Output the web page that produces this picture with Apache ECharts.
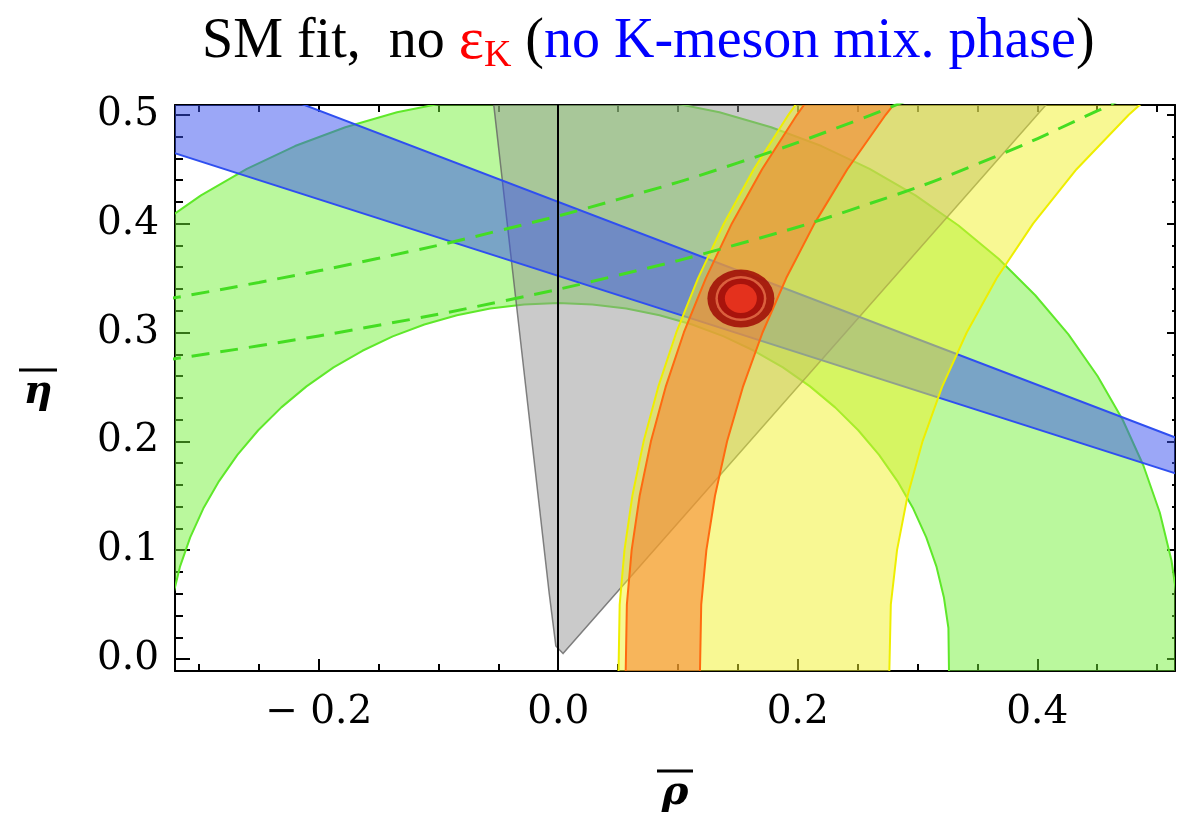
<!DOCTYPE html>
<html><head><meta charset="utf-8">
<script src="https://cdn.jsdelivr.net/npm/echarts@6/dist/echarts.min.js"></script>
<style>html,body{margin:0;padding:0;background:#fff}#c{width:1178px;height:819px}</style>
</head><body><div id="c"></div>
<script>
// ---- axis ranges and tick labels ----
const xRange = [-0.32, 0.515];
const yRange = [-0.011, 0.509];
const xTickValues = [-0.2, 0.0, 0.2, 0.4];
const xTickLabels = ['\u2212 0.2', '0.0', '0.2', '0.4'];
const yTickValues = [0.0, 0.1, 0.2, 0.3, 0.4, 0.5];
const yTickLabels = ['0.0', '0.1', '0.2', '0.3', '0.4', '0.5'];

// ---- constraint regions (rho, eta) ----
// |Vub/Vcb| annulus (green): outer arc then inner arc
const greenOuter = [[0.5196,-0.02],[0.52,0],[0.518,0.0453],[0.5121,0.0903],[0.5023,0.1346],[0.4886,0.1778],[0.4713,0.2198],[0.4503,0.26],[0.426,0.2983],[0.3983,0.3342],[0.3677,0.3677],[0.3342,0.3983],[0.2983,0.426],[0.26,0.4503],[0.2198,0.4713],[0.1778,0.4886],[0.1346,0.5023],[0.0903,0.5121],[0.0453,0.518],[0,0.52],[-0.0453,0.518],[-0.0903,0.5121],[-0.1346,0.5023],[-0.1778,0.4886],[-0.2198,0.4713],[-0.26,0.4503],[-0.2983,0.426],[-0.3342,0.3983],[-0.3677,0.3677]];
const greenInner = [[-0.322,0.0568],[-0.3159,0.0846],[-0.3073,0.1118],[-0.2964,0.1382],[-0.2832,0.1635],[-0.2679,0.1876],[-0.2505,0.2102],[-0.2312,0.2312],[-0.2102,0.2505],[-0.1876,0.2679],[-0.1635,0.2832],[-0.1382,0.2964],[-0.1118,0.3073],[-0.0846,0.3159],[-0.0568,0.322],[-0.0285,0.3258],[0,0.327],[0.0285,0.3258],[0.0568,0.322],[0.0846,0.3159],[0.1118,0.3073],[0.1382,0.2964],[0.1635,0.2832],[0.1876,0.2679],[0.2102,0.2505],[0.2312,0.2312],[0.2505,0.2102],[0.2679,0.1876],[0.2832,0.1635],[0.2964,0.1382],[0.3073,0.1118],[0.3159,0.0846],[0.322,0.0568],[0.3258,0.0285],[0.3264,-0.02]];
// gamma wedge (gray)
const grayWedge = [[-0.056,0.53],[-0.0075,0.06],[-0.002,0.012],[0.004,0.005],[0.424,0.53]];
// sin 2beta band (blue)
const blueBand = [[-0.4,0.588],[0.6,0.168],[0.6,0.1408],[-0.4,0.4928]];
// Delta m_d band (yellow): left edge bottom->top, right edge top->bottom
const yellowLeft = [[0.0502,-0.02],[0.0513,0.05],[0.0553,0.1],[0.0619,0.15],[0.0713,0.2],[0.0835,0.25],[0.0986,0.3],[0.1168,0.35],[0.1383,0.4],[0.1633,0.45],[0.1922,0.5],[0.2116,0.53]];
const yellowRight = [[0.5068,0.53],[0.4764,0.5],[0.4328,0.45],[0.3965,0.4],[0.3662,0.35],[0.3411,0.3],[0.3205,0.25],[0.3042,0.2],[0.2917,0.15],[0.2829,0.1],[0.2777,0.05],[0.2763,-0.02]];
// Delta m_s / Delta m_d band (orange)
const orangeLeft = [[0.0562,-0.02],[0.0573,0.05],[0.0613,0.1],[0.068,0.15],[0.0774,0.2],[0.0897,0.25],[0.1049,0.3],[0.1233,0.35],[0.1449,0.4],[0.1702,0.45],[0.1993,0.5],[0.2188,0.53]];
const orangeRight = [[0.295,0.53],[0.2734,0.5],[0.2414,0.45],[0.2139,0.4],[0.1904,0.35],[0.1706,0.3],[0.1542,0.25],[0.141,0.2],[0.1309,0.15],[0.1237,0.1],[0.1194,0.05],[0.1182,-0.02]];
// epsilon_K curves (dashed, not used in fit)
const epsKUpper = [[-0.33,0.3301],[-0.25,0.346],[-0.15,0.3682],[-0.05,0.3934],[0.05,0.4223],[0.15,0.4558],[0.25,0.4951],[0.3,0.5174]];
const epsKLower = [[-0.33,0.2744],[-0.25,0.2878],[-0.15,0.3066],[-0.05,0.328],[0.05,0.3526],[0.15,0.3811],[0.25,0.4147],[0.35,0.4548],[0.45,0.5035],[0.48,0.5202]];
// fit result
const fitCenter = [0.1525, 0.3312];
const rhoZero = 0;

function fmt(values, labels) {
  return function (v) {
    for (let i = 0; i < values.length; i++) if (Math.abs(v - values[i]) < 1e-7) return labels[i];
    return '';
  };
}

function polygonSeries(pts, fill, stroke, lw, z) {
  return {
    type: 'custom', coordinateSystem: 'cartesian2d', xAxisIndex: 0, yAxisIndex: 0,
    clip: true, silent: true, z: z, data: pts, encode: { x: 0, y: 1 },
    renderItem: function (params, api) {
      if (params.dataIndex !== 0) return null;
      const points = pts.map(function (p) { return api.coord(p); });
      return { type: 'polygon', shape: { points: points }, style: { fill: fill, stroke: stroke, lineWidth: lw, lineJoin: 'round' } };
    }
  };
}

const chart = echarts.init(document.getElementById('c'), null, { renderer: 'canvas' });
const tickStyle = { color: '#000', width: 2 };
const labelFont = { fontFamily: 'DejaVu Serif', fontSize: 39, color: '#000' };
const titleFont = 'Liberation Serif';

const option = {
  animation: false,
  backgroundColor: '#fff',
  title: {
    text: '{a|SM fit,  no }{e|\u03b5}{k|K}{a| (}{b|no K-meson mix. phase}{a|)}',
    left: 197, top: 4,
    textStyle: {
      fontWeight: 'normal',
      rich: {
        a: { fontFamily: titleFont, fontWeight: 'normal', fontSize: 56, color: '#000', lineHeight: 66 },
        e: { fontFamily: titleFont, fontWeight: 'normal', fontSize: 60, color: '#ff0000', lineHeight: 66 },
        k: { fontFamily: titleFont, fontWeight: 'normal', fontSize: 38, color: '#ff0000', lineHeight: 30, verticalAlign: 'bottom' },
        b: { fontFamily: titleFont, fontWeight: 'normal', fontSize: 56, color: '#0000ff', lineHeight: 66 }
      }
    }
  },
  grid: { left: 175, right: 1, top: 105, bottom: 141, show: false },
  xAxis: [
    {
      type: 'value', min: xRange[0], max: xRange[1], position: 'bottom',
      axisLine: { show: true, onZero: false, lineStyle: tickStyle },
      axisTick: { show: true, inside: true, length: 12, lineStyle: tickStyle },
      minorTick: { show: true, splitNumber: 4, length: 7, lineStyle: tickStyle },
      splitLine: { show: false },
      axisLabel: Object.assign({ formatter: fmt(xTickValues, xTickLabels), margin: 22 }, labelFont),
      name: '{bar| }\n{g|\u03c1}', nameLocation: 'middle', nameGap: 118,
      nameTextStyle: {
        align: 'center', verticalAlign: 'middle',
        rich: {
          bar: { width: 36, height: 3, backgroundColor: '#000', fontSize: 2, lineHeight: 10 },
          g: { fontFamily: 'DejaVu Serif', fontStyle: 'italic', fontWeight: 'bold', fontSize: 40, lineHeight: 36, color: '#000' }
        }
      }
    },
    {
      type: 'value', min: xRange[0], max: xRange[1], position: 'top',
      axisLine: { show: true, onZero: false, lineStyle: tickStyle },
      axisTick: { show: true, inside: true, length: 7, lineStyle: tickStyle },
      minorTick: { show: true, splitNumber: 4, length: 7, lineStyle: tickStyle },
      splitLine: { show: false }, axisLabel: { show: false }
    }
  ],
  yAxis: [
    {
      type: 'value', min: yRange[0], max: yRange[1], position: 'left',
      axisLine: { show: true, onZero: false, lineStyle: tickStyle },
      axisTick: { show: true, inside: true, length: 15, lineStyle: tickStyle },
      minorTick: { show: true, splitNumber: 5, length: 8, lineStyle: tickStyle },
      splitLine: { show: false },
      axisLabel: Object.assign({ formatter: fmt(yTickValues, yTickLabels), margin: 16 }, labelFont),
      name: '{bar| }\n{g|\u03b7}', nameLocation: 'middle', nameGap: 137, nameRotate: 0,
      nameTextStyle: {
        align: 'center', verticalAlign: 'middle',
        rich: {
          bar: { width: 38, height: 3, backgroundColor: '#000', fontSize: 2, lineHeight: 10 },
          g: { fontFamily: 'DejaVu Serif', fontStyle: 'italic', fontWeight: 'bold', fontSize: 40, lineHeight: 36, color: '#000' }
        }
      }
    },
    {
      type: 'value', min: yRange[0], max: yRange[1], position: 'right',
      axisLine: { show: true, onZero: false, lineStyle: tickStyle },
      axisTick: { show: true, inside: true, length: 8, lineStyle: tickStyle },
      minorTick: { show: true, splitNumber: 5, length: 3, lineStyle: tickStyle },
      splitLine: { show: false }, axisLabel: { show: false }
    }
  ],
  series: [
    polygonSeries(greenOuter.concat(greenInner), 'rgba(110,240,50,0.48)', '#5fe82a', 2, 1),
    polygonSeries(grayWedge, 'rgba(150,150,150,0.5)', 'rgba(100,100,100,0.8)', 1.5, 2),
    polygonSeries(blueBand, 'rgba(55,80,240,0.5)', '#2f4ff0', 2, 3),
    polygonSeries(yellowLeft.concat(yellowRight), 'rgba(242,242,40,0.5)', '#eeee00', 2, 4),
    polygonSeries(orangeLeft.concat(orangeRight), 'rgba(245,125,45,0.55)', '#ff6a10', 2, 5),
    {
      type: 'line', data: epsKUpper, smooth: true, symbol: 'none', z: 6, silent: true, clip: true,
      lineStyle: { color: '#44dd22', width: 3, type: [18, 11] }
    },
    {
      type: 'line', data: epsKLower, smooth: true, symbol: 'none', z: 6, silent: true, clip: true,
      lineStyle: { color: '#44dd22', width: 3, type: [18, 11] },
      markLine: {
        silent: true, symbol: 'none', label: { show: false }, animation: false,
        lineStyle: { color: '#000', width: 2, type: 'solid' },
        data: [{ xAxis: rhoZero }]
      }
    },
    {
      type: 'scatter', z: 8, silent: true, symbol: 'circle',
      data: [
        { value: fitCenter, symbolSize: [67, 58], itemStyle: { color: '#9b0000' } },
        { value: fitCenter, symbolSize: [51, 45], itemStyle: { color: '#e8704a' } },
        { value: fitCenter, symbolSize: [46, 40], itemStyle: { color: '#9b0000' } },
        { value: fitCenter, symbolSize: [32, 29], itemStyle: { color: '#f23a22' } }
      ]
    }
  ]
};
chart.setOption(option);
</script>
</body></html>
